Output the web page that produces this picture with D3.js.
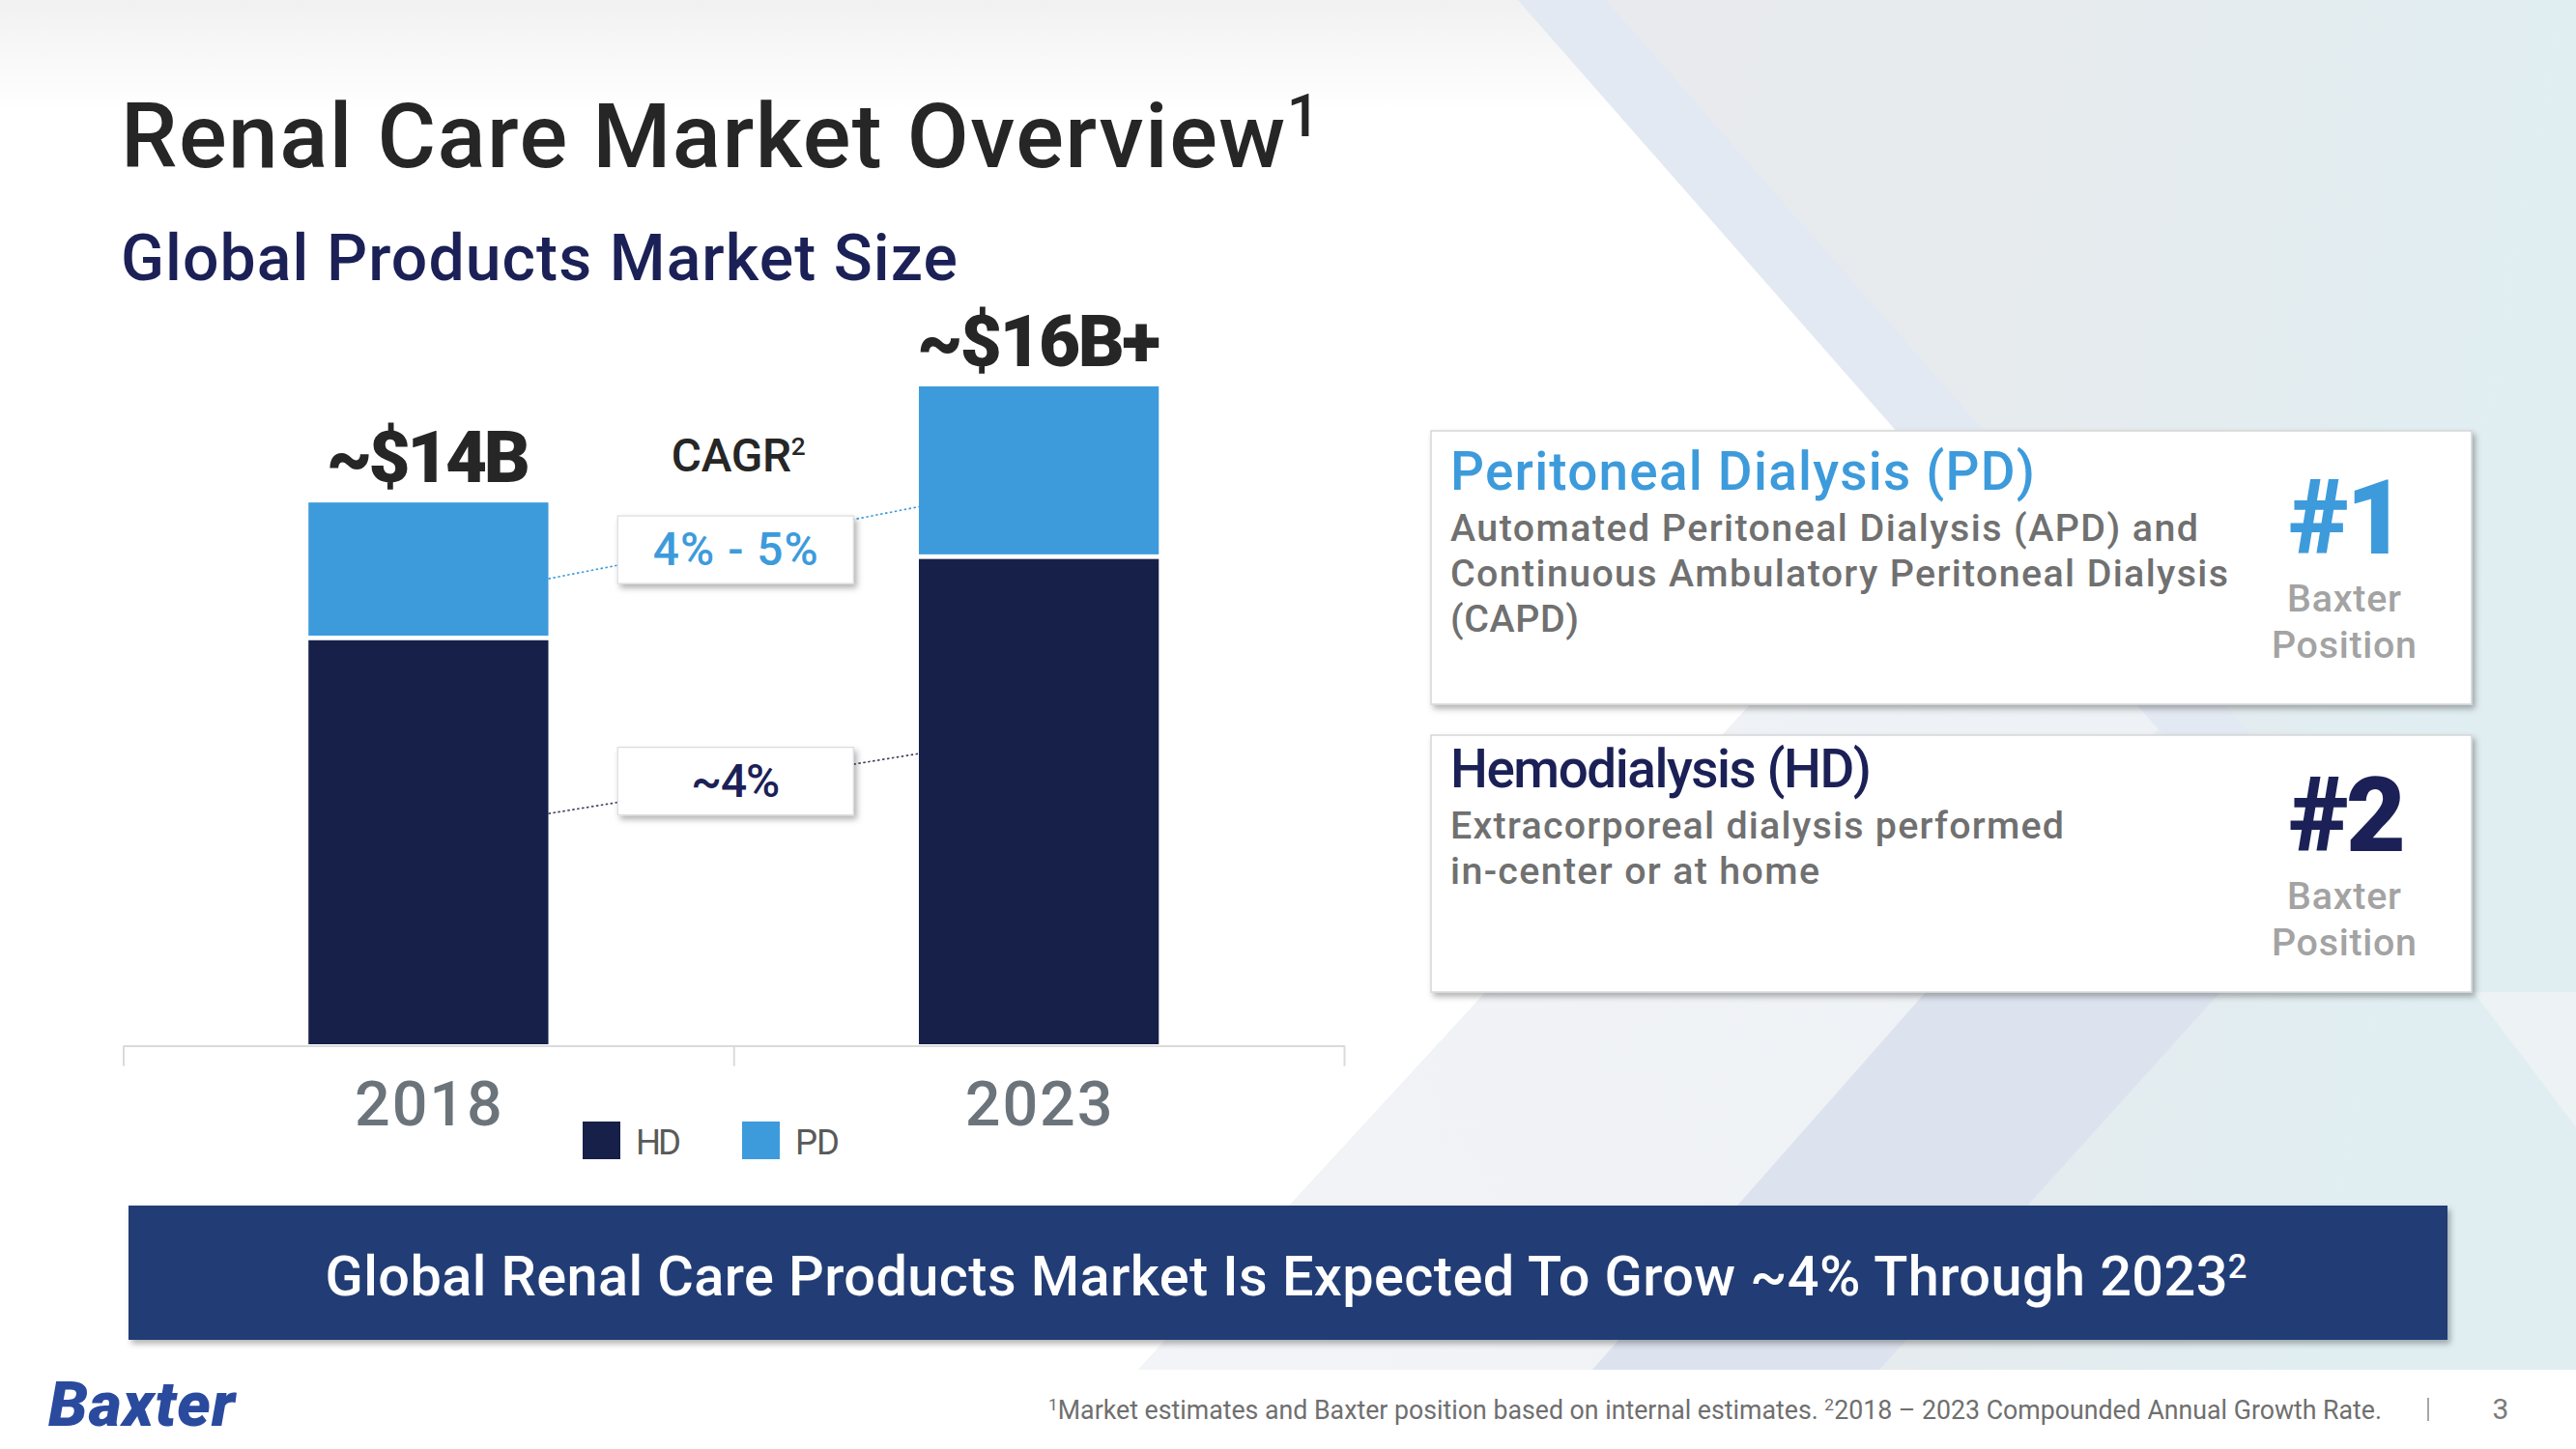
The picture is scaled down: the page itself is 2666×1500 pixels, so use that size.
<!DOCTYPE html>
<html><head><meta charset="utf-8">
<script src="https://cdn.jsdelivr.net/npm/d3@7"></script>
<style>
html,body{margin:0;padding:0;background:#fff;overflow:hidden;}
svg{display:block;}
text{font-family:Roboto,"Liberation Sans",sans-serif;}
</style></head><body>
<svg id="c" width="2666" height="1500"></svg>
<script>
// ---------------- data ----------------
const years = ["2018", "2023"];
const seriesNames = ["HD", "PD"];
const hdValues = [10.5, 12.6];
const pdValues = [3.5, 4.4];
const totalLabels = ["~$14B", "~$16B+"];
const cagrLabels = ["4% - 5%", "~4%"];          // PD, HD
const cagrTitle = ["CAGR", "2"];
const titleText = ["Renal Care Market Overview", "1"];
const subtitleText = "Global Products Market Size";
const cardTitles = ["Peritoneal Dialysis (PD)", "Hemodialysis (HD)"];
const cardLines = [
  ["Automated Peritoneal Dialysis (APD) and", "Continuous Ambulatory Peritoneal Dialysis", "(CAPD)"],
  ["Extracorporeal dialysis performed", "in-center or at home"]
];
const cardRanks = ["#1", "#2"];
const rankCaption = ["Baxter", "Position"];
const bannerText = ["Global Renal Care Products Market Is Expected To Grow ~4% Through 2023", "2"];
const footnoteText = ["", "1", "Market estimates and Baxter position based on internal estimates. ", "2", "2018 \u2013 2023 Compounded Annual Growth Rate."];
const pageNumber = "3";

// ---------------- styles ----------------
const W = 2666, H = 1500;
const hdColor = "#172049", pdColor = "#3d9bdb";
const darkText = "#262626", navyText = "#1b2156", grayText = "#6f6f6f";
const CAP = 0.711;   // Roboto cap-height ratio

const svg = d3.select("#c");
const defs = svg.append("defs");

function lin(id, x1, y1, x2, y2, stops, user) {
  const g = defs.append("linearGradient").attr("id", id)
    .attr("x1", x1).attr("y1", y1).attr("x2", x2).attr("y2", y2);
  if (user) g.attr("gradientUnits", "userSpaceOnUse");
  stops.forEach(([o, c]) => g.append("stop").attr("offset", o).attr("stop-color", c));
}
lin("topfade", 0, 0, 0, 1, [[0, "#f1f1f1"], [1, "#ffffff"]]);
lin("rightbg", 1600, 0, 2666, 200, [[0, "#e9eaed"], [0.55, "#e6ebee"], [1, "#e0eef2"]], true);
lin("lowband", 1200, 1400, 2200, 800, [[0, "#f2f4f7"], [1, "#eef1f5"]], true);

const sh = defs.append("filter").attr("id", "sh").attr("x", "-5%").attr("y", "-10%").attr("width", "115%").attr("height", "130%");
sh.append("feDropShadow").attr("dx", 3).attr("dy", 4).attr("stdDeviation", 3)
  .attr("flood-color", "#000").attr("flood-opacity", 0.3);

// ---------------- helpers ----------------
// size a text by its cap height and stretch its spacing to a measured width
function capFit(t, capH, w) {
  t.style("font-size", (capH / CAP) + "px");
  if (w) t.attr("textLength", w).attr("lengthAdjust", "spacing");
  return t;
}
function fitWidth(t, w) {
  t.style("font-size", "100px");
  const L = t.node().getComputedTextLength();
  const fs = 100 * w / L;
  t.style("font-size", fs + "px");
  return fs;
}
function rich(parent, parts, supScale, supRaise) {
  const t = parent.append("text");
  let prevSup = false;
  parts.forEach((s, i) => {
    const sup = i % 2 === 1;
    const ts = t.append("tspan").text(s);
    if (sup) ts.style("font-size", supScale + "em").attr("dy", (-supRaise / supScale) + "em");
    else if (prevSup) ts.attr("dy", supRaise + "em");
    prevSup = sup;
  });
  return t;
}

// ---------------- background ----------------
const bg = svg.append("g");
bg.append("rect").attr("width", W).attr("height", H).attr("fill", "#fff");
bg.append("rect").attr("width", W).attr("height", 115).attr("fill", "url(#topfade)");
bg.append("path").attr("d", "M1571,0 L2666,0 L2666,1418 L1178,1418 L2016,507 Z").attr("fill", "url(#rightbg)");
bg.append("path").attr("d", "M2016,507 L2453,507 L1648,1418 L1178,1418 Z").attr("fill", "url(#lowband)");
bg.append("path").attr("d", "M1571,0 L1662,0 L2330,761 L2239,761 Z").attr("fill", "#e3e9f3");
bg.append("path").attr("d", "M1993,1027 L2298,1027 L1945,1418 L1648,1418 Z").attr("fill", "#dde3ee");
bg.append("path").attr("d", "M2560,1027 L2666,1027 L2666,1167 Z").attr("fill", "#edf2f4");

// ---------------- title ----------------
const tt = rich(svg, titleText, 0.65, 0.34).attr("x", 125).attr("y", 173)
  .attr("fill", darkText).style("font-weight", 500);
capFit(tt, 66, 1241);
const st = svg.append("text").text(subtitleText).attr("x", 125).attr("y", 290)
  .attr("fill", navyText).style("font-weight", 500);
capFit(st, 47, 866);

// ---------------- chart ----------------
const plotLeft = 127.5, plotRight = 1391, yBase = 1081, yTopPx = 400;
const x = d3.scaleBand().domain(years).range([plotLeft, plotRight])
  .paddingInner(0.607).paddingOuter(0.3035);
const y = d3.scaleLinear().domain([0, 17]).range([yBase, yTopPx]);
const bw = x.bandwidth();
const rows = years.map((yr, i) => ({ year: yr, HD: hdValues[i], PD: pdValues[i] }));
const stacked = d3.stack().keys(seriesNames)(rows);
const color = d3.scaleOrdinal().domain(seriesNames).range([hdColor, pdColor]);
const gap = 2.4;

// axis frame (category boundaries)
const xEdge = d3.scaleLinear().domain([0, years.length]).range([plotLeft, plotRight]);
const axFrame = svg.append("g").attr("transform", `translate(0,${yBase + 1.5})`)
  .call(d3.axisBottom(xEdge).tickValues(d3.range(years.length + 1)).tickFormat("")
    .tickSizeInner(21).tickSizeOuter(0));
axFrame.select(".domain").attr("stroke", "#dadada").attr("stroke-width", 2);
axFrame.selectAll(".tick line").attr("stroke", "#dadada").attr("stroke-width", 2);

// connectors (drawn below boxes)
const leftEdge = x(years[0]) + bw, rightEdge = x(years[1]);
const connectorLevels = [[12.03, 13.89], [5.96, 7.51]];   // PD, HD (value-axis units)
const boxLevels = [12.78, 6.80];
const connColors = [pdColor, "#3a3f5c"];
connectorLevels.forEach((lv, i) => {
  svg.append("line").attr("x1", leftEdge).attr("x2", rightEdge)
    .attr("y1", y(lv[0])).attr("y2", y(lv[1]))
    .attr("stroke", connColors[i]).attr("stroke-width", 1.6).attr("stroke-dasharray", "2.5,2.5");
});

// bars
const layers = svg.append("g").selectAll("g").data(stacked).join("g")
  .attr("fill", d => color(d.key));
layers.selectAll("rect").data(d => d.map(v => ({ v, key: d.key }))).join("rect")
  .attr("x", d => x(d.v.data.year))
  .attr("width", bw)
  .attr("y", d => y(d.v[1]) + (d.key === "HD" ? gap : 0))
  .attr("height", d => (y(d.v[0]) - y(d.v[1])) - gap);

// total labels
const totalW = [211, 252];
years.forEach((yr, i) => {
  const t = svg.append("text").text(totalLabels[i])
    .attr("x", x(yr) + bw / 2).attr("y", y(hdValues[i] + pdValues[i]) - 21)
    .attr("text-anchor", "middle").attr("fill", darkText).style("font-weight", 900);
  capFit(t, 53, totalW[i]);
});

// year labels via axis
const axYears = svg.append("g").attr("transform", `translate(0,${yBase})`)
  .call(d3.axisBottom(x).tickSize(0));
axYears.select(".domain").remove();
axYears.selectAll("text").attr("dy", null).attr("y", 84)
  .attr("fill", "#6c747b").style("font-family", "Roboto,sans-serif").style("font-weight", 500)
  .each(function () { capFit(d3.select(this), 46, 153); });

// CAGR title
const boxCx = (leftEdge + rightEdge) / 2 + 2;
const ct = rich(svg, cagrTitle, 0.55, 0.36).attr("x", boxCx + 3).attr("y", 488)
  .attr("text-anchor", "middle").attr("fill", darkText).style("font-weight", 500);
capFit(ct, 34, 139);

// CAGR boxes
const boxW = 244, boxH = 70;
const boxTextColors = [pdColor, navyText];
const boxTextW = [171, 92];
cagrLabels.forEach((lab, i) => {
  const cy = y(boxLevels[i]);
  svg.append("rect").attr("x", boxCx - boxW / 2).attr("y", cy - boxH / 2)
    .attr("width", boxW).attr("height", boxH).attr("fill", "#fff")
    .attr("stroke", "#dcdcdc").attr("stroke-width", 1.2).attr("filter", "url(#sh)");
  const t = svg.append("text").text(lab).attr("x", boxCx).attr("y", cy + 16)
    .attr("text-anchor", "middle").attr("fill", boxTextColors[i]).style("font-weight", 500);
  capFit(t, 34, boxTextW[i]);
});

// legend
const legendX = [603, 768];
const legendTextW = [47, 46];
seriesNames.forEach((s, i) => {
  svg.append("rect").attr("x", legendX[i]).attr("y", 1161).attr("width", 39).attr("height", 39)
    .attr("fill", color(s));
  const t = svg.append("text").text(s).attr("x", legendX[i] + 55).attr("y", 1195)
    .attr("fill", "#595959");
  capFit(t, 26, legendTextW[i]);
});

// ---------------- cards ----------------
const cardX = 1481, cardW = 1077;
const cardY = [446, 761], cardH = [283, 266], cardBase = [507, 815];
const cardTitleColors = [pdColor, navyText];
const rankColors = [pdColor, navyText];
const cardTitleW = [605, 436];
const cardLineW = [[774, 805, 133], [635, 382]];
const captionW = [118, 150];
cardTitles.forEach((ttl, i) => {
  svg.append("rect").attr("x", cardX).attr("y", cardY[i]).attr("width", cardW).attr("height", cardH[i])
    .attr("fill", "#fff").attr("stroke", "#d6d6d6").attr("stroke-width", 1.5).attr("filter", "url(#sh)");
  const b = cardBase[i];
  const t = svg.append("text").text(ttl).attr("x", 1501).attr("y", b)
    .attr("fill", cardTitleColors[i]).style("font-weight", 500);
  capFit(t, 39, cardTitleW[i]);
  cardLines[i].forEach((ln, j) => {
    const lt = svg.append("text").text(ln).attr("x", 1501).attr("y", b + 53 + j * 47)
      .attr("fill", "#707070").style("font-weight", 500);
    capFit(lt, 28, cardLineW[i][j]);
  });
  const rk = svg.append("text").text(cardRanks[i]).attr("x", 2428).attr("y", b + 66)
    .attr("text-anchor", "middle").attr("fill", rankColors[i]).style("font-weight", 900)
    .style("letter-spacing", "-3px");
  capFit(rk, 76);
  rankCaption.forEach((c, j) => {
    const ctx = svg.append("text").text(c).attr("x", 2426).attr("y", b + 126 + j * 48)
      .attr("text-anchor", "middle").attr("fill", "#a3a3a3").style("font-weight", 500);
    capFit(ctx, 28, captionW[j]);
  });
});

// ---------------- banner ----------------
svg.append("rect").attr("x", 133).attr("y", 1248).attr("width", 2400).attr("height", 139)
  .attr("fill", "#233e75").attr("filter", "url(#sh)");
const bt = rich(svg, bannerText, 0.6, 0.32).attr("x", 1331).attr("y", 1341)
  .attr("text-anchor", "middle").attr("fill", "#fff").style("font-weight", 500);
capFit(bt, 41, 1989);

// ---------------- footer ----------------
const logo = svg.append("text").text("Baxter").attr("x", 50).attr("y", 1476)
  .attr("fill", "#2a4a9e").style("font-family", "Roboto,sans-serif")
  .style("font-weight", 900).style("font-style", "italic").style("letter-spacing", "1px");
fitWidth(logo, 192);
const fn = rich(svg, footnoteText, 0.65, 0.35).attr("x", 1085).attr("y", 1469)
  .attr("fill", grayText).style("font-weight", 400);
fitWidth(fn, 1381);
svg.append("line").attr("x1", 2513).attr("x2", 2513).attr("y1", 1447).attr("y2", 1471)
  .attr("stroke", "#8a8a8a").attr("stroke-width", 1.5);
svg.append("text").text(pageNumber).attr("x", 2588).attr("y", 1469).attr("text-anchor", "middle")
  .attr("fill", "#7a7a7a").style("font-size", "30px").style("font-weight", 400);
</script>
</body></html>
